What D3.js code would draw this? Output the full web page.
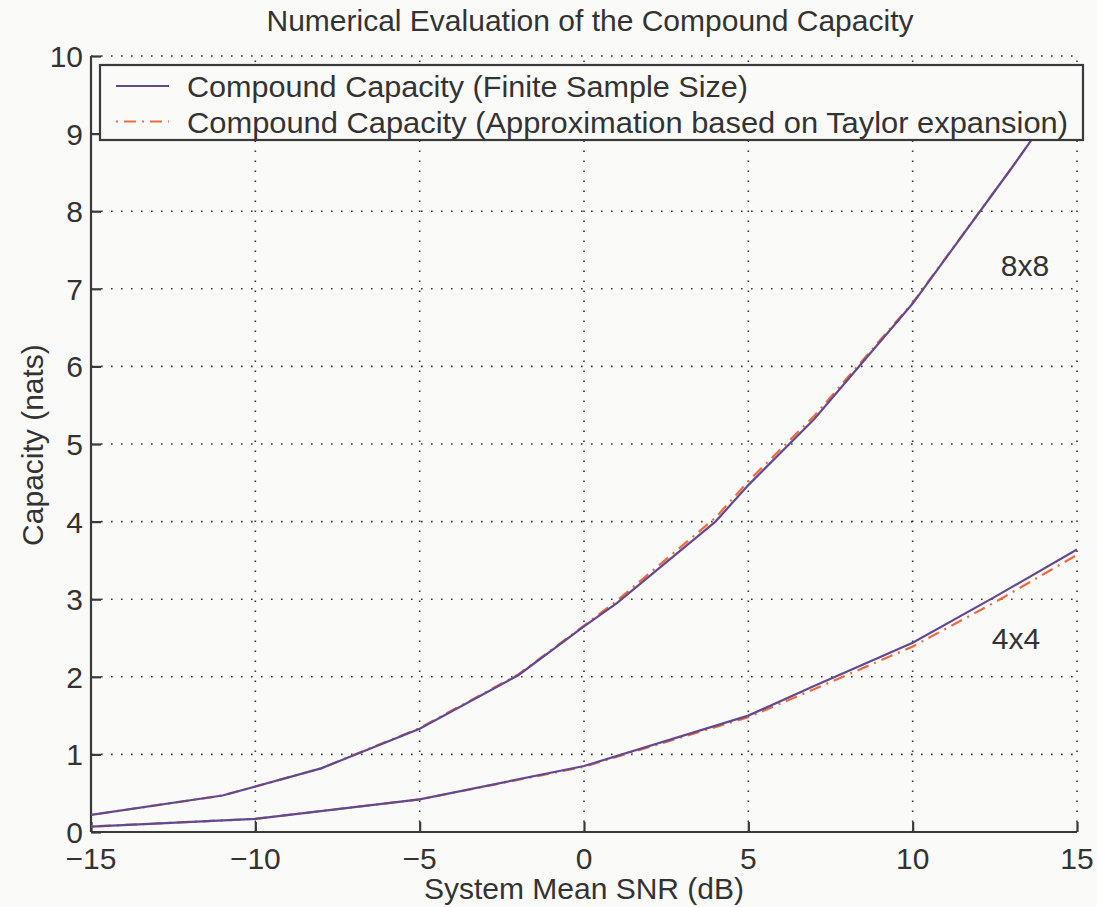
<!DOCTYPE html>
<html>
<head>
<meta charset="utf-8">
<script src="https://cdn.jsdelivr.net/npm/d3@7"></script>
<style>
  body { margin: 0; background: #fafaf8; }
  text { font-family: "Liberation Sans", Arial, sans-serif; fill: #333; }
</style>
</head>
<body>
<svg id="chart" width="1097" height="907"></svg>
<script>
// SNR points (dB)
var snr8 = [-15, -11, -8, -5, -2, 0, 1, 4, 5, 7, 10, 13, 15];
var finite8 = [0.22, 0.47, 0.82, 1.33, 2.02, 2.65, 2.95, 4.0, 4.47, 5.32, 6.81, 8.55, 9.75];
var taylor8 = [0.22, 0.47, 0.82, 1.34, 2.03, 2.66, 2.98, 4.05, 4.52, 5.36, 6.82, 8.55, 9.75];

var snr4 = [-15, -10, -5, 0, 5, 7, 10, 12.5, 15];
var finite4 = [0.07, 0.17, 0.42, 0.85, 1.5, 1.88, 2.44, 3.03, 3.64];
var taylor4 = [0.07, 0.17, 0.42, 0.84, 1.48, 1.84, 2.39, 2.96, 3.57];

var xTicks = [-15, -10, -5, 0, 5, 10, 15];
var yTicks = [0, 1, 2, 3, 4, 5, 6, 7, 8, 9, 10];

var legendLabels = ["Compound Capacity (Finite Sample Size)",
	"Compound Capacity (Approximation based on Taylor expansion)"];

var purple = "#634a8f", orange = "#f06a3c", ink = "#3a3a3a";
var fs = 30;
var dashDot = "2,6,12,6";

var svg = d3.select("#chart");
// plot box (pixels)
var pLeft = 91, pRight = 1077, pTop = 56, pBottom = 832;

var x = d3.scaleLinear().domain([-15, 15]).range([pLeft, pRight]);
var y = d3.scaleLinear().domain([0, 10]).range([pBottom, pTop]);

// grid, dotted
var grid = svg.append("g").attr("class", "grid");
xTicks.forEach(function(t){
	if (t == -15) return;
	grid.append("line")
		.attr("x1", x(t)).attr("x2", x(t))
		.attr("y1", pBottom).attr("y2", pTop)
		.attr("stroke", ink).attr("stroke-width", 1.6)
		.attr("stroke-dasharray", "1.6,8.4");
});
yTicks.forEach(function(t){
	if (t == 0) return;
	grid.append("line")
		.attr("x1", pLeft).attr("x2", pRight)
		.attr("y1", y(t)).attr("y2", y(t))
		.attr("stroke", ink).attr("stroke-width", 1.6)
		.attr("stroke-dasharray", "1.6,8.4");
});

// axes (ticks point inward, like the original)
var xAxis = svg.append("g")
	.attr("transform", "translate(0," + pBottom + ")")
	.call(d3.axisTop(x).tickValues(xTicks).tickSize(10).tickFormat(""));
var yAxis = svg.append("g")
	.attr("transform", "translate(" + pLeft + ",0)")
	.call(d3.axisRight(y).tickValues(yTicks).tickSize(10).tickFormat(""));
[xAxis, yAxis].forEach(function(a){
	a.select(".domain").attr("stroke", ink).attr("stroke-width", 2.2);
	a.selectAll(".tick line").attr("stroke", ink).attr("stroke-width", 2.2);
});
xAxis.select(".domain").attr("d", "M" + pLeft + ",0H" + pRight);
yAxis.select(".domain").attr("d", "M0," + pBottom + "V" + pTop);

// tick labels
svg.append("g").selectAll("text")
	.data(xTicks).enter().append("text")
	.attr("x", function(d){ return x(d); })
	.attr("y", pBottom + 37)
	.attr("text-anchor", "middle")
	.attr("font-size", fs)
	.text(function(d){ return d < 0 ? "\u2212" + Math.abs(d) : d; });
svg.append("g").selectAll("text")
	.data(yTicks).enter().append("text")
	.attr("x", pLeft - 8)
	.attr("y", function(d){ return y(d) + 11; })
	.attr("text-anchor", "end")
	.attr("font-size", fs)
	.text(function(d){ return d; });

// curves
svg.append("clipPath").attr("id", "plotclip")
	.append("rect").attr("x", pLeft).attr("y", pTop)
	.attr("width", pRight - pLeft).attr("height", pBottom - pTop);

var line = d3.line()
	.x(function(d){ return x(d[0]); })
	.y(function(d){ return y(d[1]); });

var curves = svg.append("g").attr("clip-path", "url(#plotclip)");
function draw(xs, ys, color, dash){
	curves.append("path")
		.datum(d3.zip(xs, ys))
		.attr("d", line)
		.attr("fill", "none")
		.attr("stroke", color)
		.attr("stroke-width", 2.2)
		.attr("stroke-dasharray", dash);
}
draw(snr4, taylor4, orange, dashDot);
draw(snr8, taylor8, orange, dashDot);
draw(snr4, finite4, purple, null);
draw(snr8, finite8, purple, null);

// curve labels
svg.append("text").attr("x", 1025).attr("y", 276)
	.attr("text-anchor", "middle").attr("font-size", fs).text("8x8");
svg.append("text").attr("x", 1016).attr("y", 649)
	.attr("text-anchor", "middle").attr("font-size", fs).text("4x4");

// legend
var legendEnds = [748, 1068];
var legend = svg.append("g").attr("class", "legend");
legend.append("rect")
	.attr("x", 100).attr("y", 65)
	.attr("width", 983).attr("height", 75)
	.attr("fill", "#fafaf8")
	.attr("stroke", ink).attr("stroke-width", 2.2);
[[purple, null], [orange, dashDot]].forEach(function(s, i){
	var ly = 86 + i * 35.5;
	legend.append("line")
		.attr("x1", 116).attr("x2", 169)
		.attr("y1", ly).attr("y2", ly)
		.attr("stroke", s[0]).attr("stroke-width", 2.2)
		.attr("stroke-dasharray", s[1]);
	legend.append("text")
		.attr("x", 187).attr("y", ly + 11)
		.attr("font-size", fs)
		.attr("textLength", legendEnds[i] - 187)
		.attr("lengthAdjust", "spacingAndGlyphs")
		.text(legendLabels[i]);
});

// titles
svg.append("text").attr("x", 590).attr("y", 31)
	.attr("text-anchor", "middle").attr("font-size", fs)
	.text("Numerical Evaluation of the Compound Capacity");
svg.append("text").attr("x", 584).attr("y", 899)
	.attr("text-anchor", "middle").attr("font-size", fs)
	.text("System Mean SNR (dB)");
svg.append("text")
	.attr("transform", "translate(43,445) rotate(-90)")
	.attr("text-anchor", "middle").attr("font-size", fs)
	.text("Capacity (nats)");
</script>
</body>
</html>
